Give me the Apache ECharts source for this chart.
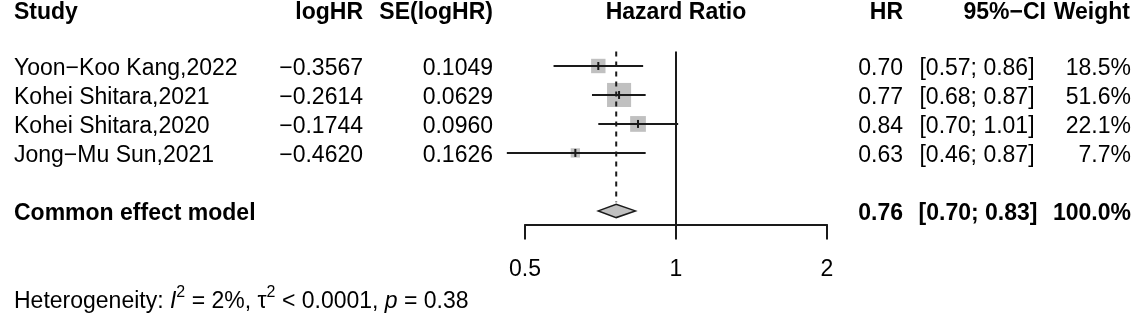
<!DOCTYPE html>
<html>
<head>
<meta charset="utf-8">
<title>Forest plot</title>
<script src="https://cdn.jsdelivr.net/npm/echarts@6/dist/echarts.min.js"></script>
<style>
  html, body { margin: 0; padding: 0; background: #fff; }
  #forest { width: 1136px; height: 320px; }
</style>
</head>
<body>
<div id="forest"></div>
<script>
// study data
const studies = ['Yoon\u2212Koo Kang,2022', 'Kohei Shitara,2021', 'Kohei Shitara,2020', 'Jong\u2212Mu Sun,2021'];
const logHR = [-0.3567, -0.2614, -0.1744, -0.4620];
const seLogHR = [0.1049, 0.0629, 0.0960, 0.1626];
const hr = [0.70, 0.77, 0.84, 0.63];
const ciLow = [0.57, 0.68, 0.70, 0.46];
const ciHigh = [0.86, 0.87, 1.01, 0.87];
const weight = [18.5, 51.6, 22.1, 7.7];
const studyRows = [1, 2, 3, 4];

// common effect model
const pooledLabel = 'Common effect model';
const pooledHR = 0.76;
const pooledLow = 0.70;
const pooledHigh = 0.83;
const pooledWeight = 100.0;
const pooledRow = 6;

// axis
const xTicks = [0.5, 1, 2];
const hetText = 'Heterogeneity: {it|I}{sup|2} = 2%, \u03c4{sup|2} < 0.0001, {it|p} = 0.38';

const FONT = '"Liberation Sans", Arial, Helvetica, sans-serif';
const INK = '#1a1a1a';

function fmtSigned(v) {
  return v.toFixed(4).replace('-', '\u2212');
}

function txt(x, y, text, align, bold) {
  return {
    type: 'text',
    x: x,
    y: y,
    silent: true,
    style: {
      text: text,
      fill: '#000',
      font: (bold ? 'bold ' : '') + '23px ' + FONT,
      align: align,
      verticalAlign: 'middle'
    }
  };
}

// text columns (x = anchor px)
const rowY = [69, 98, 127, 156];
const headY = 12.5;
let graphics = [
  txt(14, headY, 'Study', 'left', true),
  txt(363, headY, 'logHR', 'right', true),
  txt(493, headY, 'SE(logHR)', 'right', true),
  txt(676, headY, 'Hazard Ratio', 'center', true),
  txt(903, headY, 'HR', 'right', true),
  txt(1046, headY, '95%\u2212CI', 'right', true),
  txt(1130, headY, 'Weight', 'right', true)
];
studies.forEach(function (s, i) {
  graphics.push(txt(14, rowY[i], s, 'left'));
  graphics.push(txt(363, rowY[i], fmtSigned(logHR[i]), 'right'));
  graphics.push(txt(493, rowY[i], seLogHR[i].toFixed(4), 'right'));
  graphics.push(txt(903, rowY[i], hr[i].toFixed(2), 'right'));
  graphics.push(txt(977, rowY[i], '[' + ciLow[i].toFixed(2) + '; ' + ciHigh[i].toFixed(2) + ']', 'center'));
  graphics.push(txt(1131, rowY[i], weight[i].toFixed(1) + '%', 'right'));
});
graphics.push(txt(14, 214, pooledLabel, 'left', true));
graphics.push(txt(903, 214, pooledHR.toFixed(2), 'right', true));
graphics.push(txt(978, 214, '[' + pooledLow.toFixed(2) + '; ' + pooledHigh.toFixed(2) + ']', 'center', true));
graphics.push(txt(1131, 214, pooledWeight.toFixed(1) + '%', 'right', true));

// heterogeneity line, rich text for italics / superscripts
graphics.push({
  type: 'text',
  x: 14,
  y: 301.5,
  silent: true,
  style: {
    text: hetText,
    fill: '#000',
    fontSize: 23,
    fontFamily: FONT,
    lineHeight: 34,
    align: 'left',
    verticalAlign: 'middle',
    rich: {
      it: { fontStyle: 'italic', fontSize: 23, fontFamily: FONT, lineHeight: 34 },
      sup: { fontSize: 16, fontFamily: FONT, lineHeight: 15, verticalAlign: 'top' }
    }
  }
});

// squares + CI lines + estimate tick
function renderStudy(params, api) {
  const y = api.value(1);
  const c = api.coord([api.value(0), y]);
  const l = api.coord([api.value(2), y]);
  const h = api.coord([api.value(3), y]);
  const s = 3.35 * Math.sqrt(api.value(4));
  return {
    type: 'group',
    children: [
      { type: 'rect', shape: { x: c[0] - s / 2, y: c[1] - s / 2, width: s, height: s }, style: { fill: '#c0c0c0' } },
      { type: 'line', shape: { x1: l[0], y1: l[1], x2: h[0], y2: h[1] }, style: { stroke: INK, lineWidth: 2 } },
      { type: 'line', shape: { x1: c[0], y1: c[1] - 4, x2: c[0], y2: c[1] + 4 }, style: { stroke: INK, lineWidth: 2 } }
    ]
  };
}

function renderDiamond(params, api) {
  const y = api.value(1);
  const c = api.coord([api.value(0), y]);
  const l = api.coord([api.value(2), y]);
  const h = api.coord([api.value(3), y]);
  const hh = 6.7;
  return {
    type: 'polygon',
    shape: { points: [[l[0], c[1]], [c[0], c[1] - hh], [h[0], c[1]], [c[0], c[1] + hh]] },
    style: { fill: '#c0c0c0', stroke: INK, lineWidth: 1.5 }
  };
}

const studyData = studyRows.map(function (r, i) {
  return [hr[i], r, ciLow[i], ciHigh[i], weight[i]];
});

const option = {
  animation: false,
  backgroundColor: '#fff',
  grid: { left: 525, width: 302, top: 51.5, height: 173 },
  xAxis: {
    type: 'log',
    logBase: 2,
    min: xTicks[0],
    max: xTicks[xTicks.length - 1],
    axisLine: { show: true, lineStyle: { color: INK, width: 2 } },
    axisTick: { show: true, inside: false, length: 15, lineStyle: { color: INK, width: 2 } },
    axisLabel: { margin: 34, fontSize: 23, fontFamily: FONT, color: '#000' },
    splitLine: { show: false },
    minorTick: { show: false }
  },
  yAxis: {
    type: 'value',
    inverse: true,
    min: 0.5,
    max: 6.47,
    show: false
  },
  graphic: graphics,
  series: [
    {
      // line of no effect
      type: 'line',
      data: [[1, 0.5], [1, 6.47]],
      symbol: 'none',
      lineStyle: { color: INK, width: 2 },
      silent: true
    },
    {
      // common effect estimate (dashed)
      type: 'line',
      data: [[pooledHR, 0.5], [pooledHR, 5.7]],
      symbol: 'none',
      lineStyle: { color: INK, width: 2, type: [5, 5] },
      silent: true
    },
    {
      type: 'custom',
      renderItem: renderStudy,
      data: studyData,
      silent: true
    },
    {
      type: 'custom',
      renderItem: renderDiamond,
      data: [[pooledHR, pooledRow, pooledLow, pooledHigh]],
      silent: true
    }
  ]
};

const chart = echarts.init(document.getElementById('forest'));
chart.setOption(option);
</script>
</body>
</html>
